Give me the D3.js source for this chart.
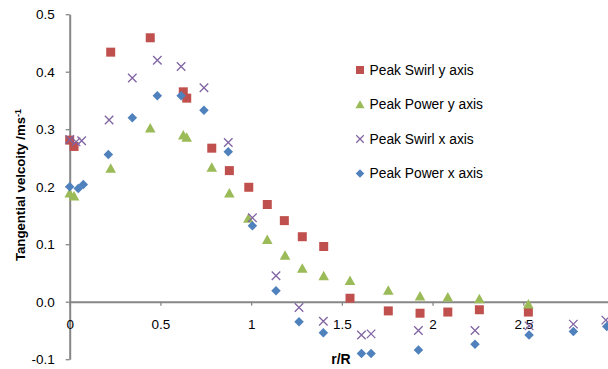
<!DOCTYPE html>
<html>
<head>
<meta charset="utf-8">
<script src="https://cdn.jsdelivr.net/npm/d3@7"></script>
<style>
  html, body { margin: 0; padding: 0; background: #fff; overflow: hidden; }
  svg { display: block; font-family: "Liberation Sans", Arial, sans-serif; }
</style>
</head>
<body>
<svg id="chart" width="608" height="369"></svg>
<script>
// Tangential velocity profiles against normalised radius r/R
const seriesNames = ["Peak Swirl y axis", "Peak Power y axis", "Peak Swirl x axis", "Peak Power x axis"];

const swirlYr = [0, 0.024, 0.226, 0.444, 0.626, 0.645, 0.783, 0.88, 0.987, 1.089, 1.183, 1.282, 1.4, 1.545, 1.756, 1.931, 2.084, 2.258, 2.528];
const swirlYv = [0.281, 0.27, 0.434, 0.459, 0.365, 0.354, 0.267, 0.228, 0.199, 0.169, 0.141, 0.113, 0.096, 0.006, -0.016, -0.020, -0.018, -0.014, -0.018];

const powerYr = [0, 0.024, 0.226, 0.444, 0.626, 0.645, 0.783, 0.88, 0.985, 1.089, 1.187, 1.282, 1.4, 1.545, 1.756, 1.931, 2.084, 2.258, 2.528];
const powerYv = [0.189, 0.184, 0.232, 0.302, 0.29, 0.286, 0.234, 0.189, 0.145, 0.108, 0.081, 0.058, 0.045, 0.037, 0.020, 0.010, 0.008, 0.005, -0.004];

const swirlXr = [0, 0.035, 0.066, 0.217, 0.345, 0.483, 0.614, 0.74, 0.874, 1.007, 1.137, 1.264, 1.398, 1.608, 1.661, 1.922, 2.234, 2.532, 2.776, 2.955];
const swirlXv = [0.282, 0.278, 0.28, 0.316, 0.389, 0.42, 0.409, 0.372, 0.277, 0.146, 0.045, -0.010, -0.034, -0.058, -0.056, -0.050, -0.050, -0.042, -0.039, -0.032];

const powerXr = [0, 0.047, 0.075, 0.213, 0.345, 0.483, 0.614, 0.74, 0.874, 1.007, 1.137, 1.264, 1.398, 1.608, 1.661, 1.922, 2.234, 2.532, 2.776, 2.96];
const powerXv = [0.2, 0.197, 0.204, 0.256, 0.32, 0.358, 0.358, 0.333, 0.261, 0.132, 0.019, -0.035, -0.054, -0.090, -0.090, -0.084, -0.074, -0.058, -0.052, -0.043];

const xTicks = [0, 0.5, 1, 1.5, 2, 2.5];
const xTickLabels = ["0", "0.5", "1", "1.5", "2", "2.5"];
const yTicks = [-0.1, 0, 0.1, 0.2, 0.3, 0.4, 0.5];
const yTickLabels = ["-0.1", "0.0", "0.1", "0.2", "0.3", "0.4", "0.5"];

const colors = ["#C0504D", "#9BBB59", "#8064A2", "#4F81BD"];
const shapes = ["square", "triangle", "cross", "diamond"];

const svg = d3.select("#chart");
const x = d3.scaleLinear().domain([0, 3]).range([69.7, 614]);
const y = d3.scaleLinear().domain([-0.1, 0.5]).range([359.2, 14.2]);
const axisColor = "#868686";

// marker shapes, centred on the origin
function markerPath(shape, s) {
  const h = s / 2;
  if (shape === "square") return `M${-h},${-h}H${h}V${h}H${-h}Z`;
  if (shape === "triangle") return `M0,${-h}L${h + 0.3},${h - 0.5}L${-h - 0.3},${h - 0.5}Z`;
  if (shape === "diamond") return `M0,${-h}L${h},0L0,${h}L${-h},0Z`;
  return `M${-h},${-h}L${h},${h}M${h},${-h}L${-h},${h}`;
}
function drawMarker(g, shape, color, s) {
  const p = g.append("path").attr("d", markerPath(shape, s));
  if (shape === "cross") p.attr("fill", "none").attr("stroke", color).attr("stroke-width", 1.3);
  else p.attr("fill", color);
}

// axes
const yAxis = d3.axisLeft(y).tickValues(yTicks).tickSize(4).tickSizeOuter(0).tickFormat((d, i) => yTickLabels[i]).tickPadding(11);
const gy = svg.append("g").attr("transform", `translate(${x(0)},0)`).call(yAxis);
const xAxis = d3.axisBottom(x).tickValues(xTicks).tickSize(4).tickSizeOuter(0).tickFormat((d, i) => xTickLabels[i]).tickPadding(14);
const gx = svg.append("g").attr("transform", `translate(0,${y(0)})`).call(xAxis);

[gx, gy].forEach(g => {
  g.select(".domain").attr("stroke", axisColor).attr("stroke-width", 2);
  g.selectAll(".tick line").attr("stroke", axisColor).attr("stroke-width", 1.3);
  g.selectAll(".tick text").attr("fill", "#000").style("font-size", "13.5px")
    .style("font-family", "'Liberation Sans', Arial, sans-serif");
});

// data series, later series painted on top
const seriesR = [swirlYr, powerYr, swirlXr, powerXr];
const seriesV = [swirlYv, powerYv, swirlXv, powerXv];
const sizes = [9, 10, 8.5, 9.5];
seriesR.forEach((rs, k) => {
  const g = svg.append("g");
  rs.forEach((r, i) => {
    const m = g.append("g").attr("transform", `translate(${x(r)},${y(seriesV[k][i])})`);
    drawMarker(m, shapes[k], colors[k], sizes[k]);
  });
});

// legend
const legend = svg.append("g");
const legendY = [70, 104.5, 139, 173.5];
seriesNames.forEach((name, k) => {
  const m = legend.append("g").attr("transform", `translate(360,${legendY[k]})`);
  drawMarker(m, shapes[k], colors[k], [8, 8.5, 7.5, 8.5][k]);
  legend.append("text").attr("x", 369.5).attr("y", legendY[k]).attr("dy", "0.35em")
    .style("font-size", "13.8px").attr("fill", "#000").text(name);
});

// axis titles
svg.append("text").attr("x", 341).attr("y", 364).attr("text-anchor", "middle")
  .style("font-size", "14px").style("font-weight", "bold").text("r/R");

const yt = svg.append("text").attr("transform", "translate(25,185) rotate(-90)").attr("text-anchor", "middle")
  .style("font-size", "13.2px").style("font-weight", "bold");
yt.append("tspan").text("Tangential velcoity /ms");
yt.append("tspan").attr("dy", "-0.4em").style("font-size", "9px").text("-1");
</script>
</body>
</html>
